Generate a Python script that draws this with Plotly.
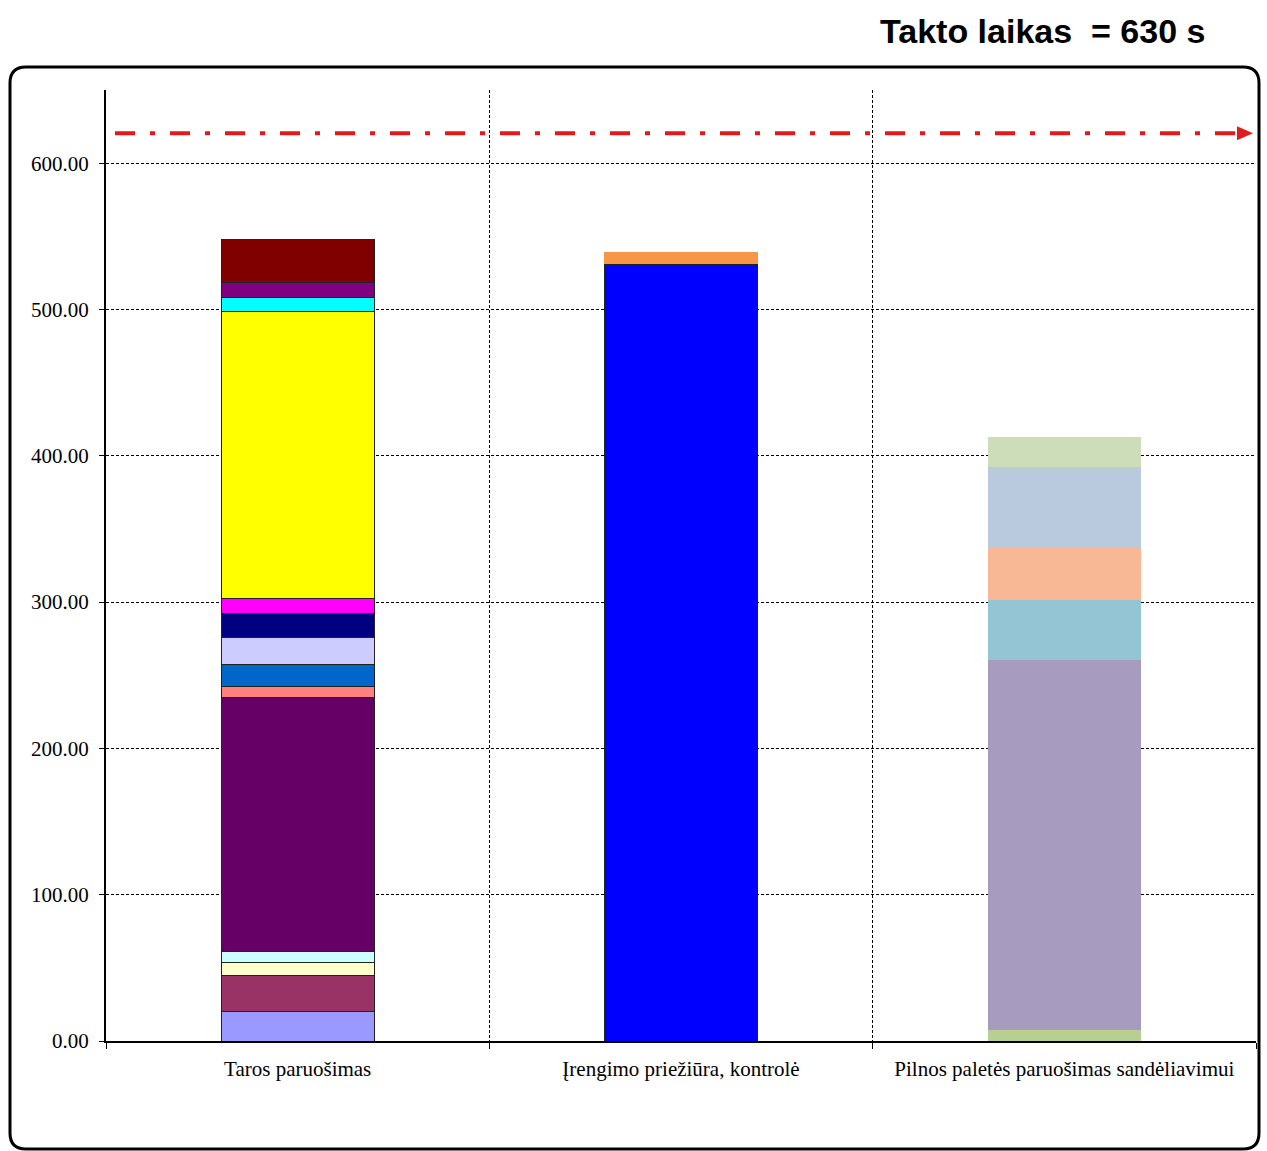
import plotly.graph_objects as go

categories = ["Taros paruošimas", "Įrengimo priežiūra, kontrolė", "Pilnos paletės paruošimas sandėliavimui"]

# stacked segment values, bottom to top
taros_values = [20, 24.5, 9, 8, 173, 7.5, 15, 19, 16.5, 10, 196, 10, 10, 29.5]
irengimo_values = [531, 8]
pilnos_values = [7.5, 253, 41, 35.5, 55, 20.5]

taros_colors = ["#9999FF", "#993366", "#FFFFCC", "#CCFFFF", "#660066", "#FF8080", "#0066CC",
                "#CCCCFF", "#000080", "#FF00FF", "#FFFF00", "#00FFFF", "#800080", "#800000"]
irengimo_colors = ["#0000FF", "#F79646"]
pilnos_colors = ["#B8CF94", "#A89BC0", "#93C5D5", "#F8B895", "#B9C9DE", "#CDDCB9"]

takt_line = 620.5
title_text = "Takto laikas  = 630 s"
y_ticks = [0, 100, 200, 300, 400, 500, 600]
y_range = [0, 650]

W, H = 1267, 1151
L, R, T, B = 106, 11, 90, 110
pw, ph = W - L - R, H - T - B

def px_x(px):
    return (px - L) / pw

def px_y(py):
    return (H - B - py) / ph

fig = go.Figure()

groups = [
    (categories[0], taros_values, taros_colors, [1] * len(taros_values)),
    (categories[1], irengimo_values, irengimo_colors, [1, 0]),
    (categories[2], pilnos_values, pilnos_colors, [0] * len(pilnos_values)),
]
for cat, vals, cols, lw in groups:
    for v, c, w in zip(vals, cols, lw):
        fig.add_trace(go.Bar(
            x=[cat], y=[v], marker=dict(color=c, line=dict(color="#222222", width=w)),
            width=0.4, showlegend=False, hoverinfo="y"))

fig.update_layout(
    barmode="stack",
    width=W, height=H,
    margin=dict(l=L, r=R, t=T, b=B),
    paper_bgcolor="white", plot_bgcolor="white",
    font=dict(family="Liberation Serif, Times New Roman, serif", size=21, color="black"),
)

fig.update_xaxes(
    type="category", categoryorder="array", categoryarray=categories,
    tickson="boundaries", showgrid=True, gridcolor="black", griddash="3px,2px", gridwidth=1,
    showline=True, linecolor="black", linewidth=2,
    ticks="outside", ticklen=6, tickcolor="black", tickwidth=1,
    ticklabelstandoff=8,
    tickfont=dict(family="Liberation Serif, serif", size=21),
    range=[-0.5, 2.5],
)
fig.update_yaxes(
    range=y_range, tickvals=y_ticks, ticktext=[f"{v:.2f}" for v in y_ticks],
    showgrid=True, gridcolor="black", griddash="3px,2px", gridwidth=1,
    showline=True, linecolor="black", linewidth=2,
    ticks="outside", ticklen=5, tickcolor="black", tickwidth=1,
    ticklabelstandoff=6,
    tickfont=dict(family="Liberation Serif, serif", size=21),
    zeroline=False,
)

# takt time dash-dot line with arrowhead
x0, x1 = px_x(115), px_x(1238)
fig.add_shape(type="line", xref="paper", yref="y", x0=x0, x1=x1, y0=takt_line, y1=takt_line,
              line=dict(color="#E01B1B", width=4, dash="20px,15px,5px,15px"), layer="above")
ah = 7 / ph * (y_range[1] - y_range[0])
fig.add_shape(type="path", xref="paper", yref="y",
              path=f"M {px_x(1237)} {takt_line + ah} L {px_x(1253)} {takt_line} L {px_x(1237)} {takt_line - ah} Z",
              fillcolor="#E01B1B", line=dict(color="#E01B1B", width=0), layer="above")

# outer rounded frame
bx0, bx1 = px_x(10), px_x(1259)
by0, by1 = px_y(67), px_y(1149)
rx, ry = 16 / pw, 16 / ph
path = (f"M {bx0 + rx} {by0} L {bx1 - rx} {by0} Q {bx1} {by0} {bx1} {by0 - ry} "
        f"L {bx1} {by1 + ry} Q {bx1} {by1} {bx1 - rx} {by1} "
        f"L {bx0 + rx} {by1} Q {bx0} {by1} {bx0} {by1 + ry} "
        f"L {bx0} {by0 - ry} Q {bx0} {by0} {bx0 + rx} {by0} Z")
fig.add_shape(type="path", xref="paper", yref="paper", path=path,
              line=dict(color="black", width=3), fillcolor="rgba(0,0,0,0)", layer="above")

fig.add_annotation(text=f"<b>{title_text}</b>", xref="paper", yref="paper",
                   x=px_x(1207), y=px_y(31), xanchor="right", yanchor="middle", showarrow=False,
                   font=dict(family="Liberation Sans, Arial, sans-serif", size=34, color="black"))

fig.write_html("out.html")
